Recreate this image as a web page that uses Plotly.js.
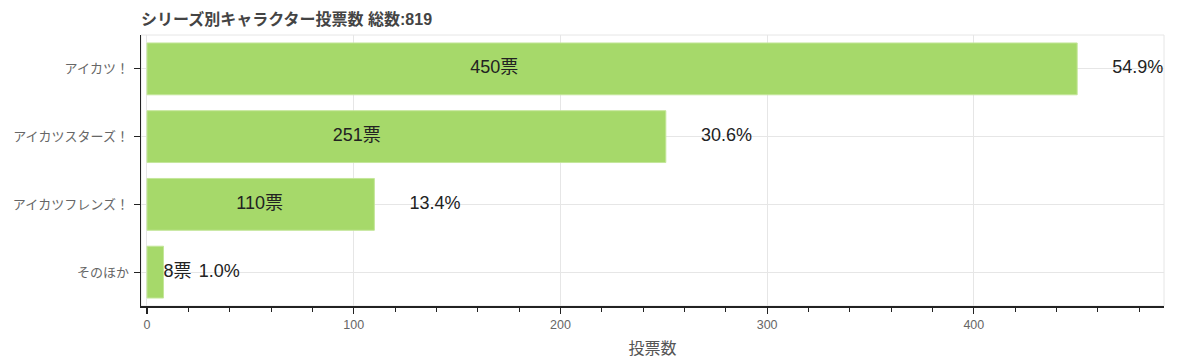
<!DOCTYPE html>
<html>
<head>
<meta charset="utf-8">
<script src="https://cdn.plot.ly/plotly-3.0.1.min.js"></script>
<style>html,body{margin:0;padding:0;background:#fff;}#chart{width:1200px;height:360px;}</style>
</head>
<body>
<div id="chart"></div>
<script>
const categories = ["アイカツ！", "アイカツスターズ！", "アイカツフレンズ！", "そのほか"];
const votes = [450, 251, 110, 8];
const voteLabels = ["450票", "251票", "110票", "8票"];
const percentLabels = ["54.9%", "30.6%", "13.4%", "1.0%"];
const voteLabelX = [168, 101.5, 54.5, 8];
const totalVotes = 819;

const FONT = "Liberation Sans, Arial, 'Noto Sans CJK JP', sans-serif";

const big = votes.map(v => v >= 50);
const traces = [
  {
    type: "bar", orientation: "h",
    y: categories, x: votes,
    width: 0.765,
    marker: {color: "#a6d96a", line: {color: "#c4e69a", width: 1}},
    hoverinfo: "x+y"
  },
  {
    type: "scatter", mode: "text",
    y: categories.filter((c, i) => big[i]),
    x: voteLabelX.filter((c, i) => big[i]),
    text: voteLabels.filter((c, i) => big[i]),
    textposition: "middle center",
    textfont: {family: FONT, size: 18, color: "#222"},
    cliponaxis: true, hoverinfo: "skip"
  },
  {
    type: "scatter", mode: "text",
    y: categories.filter((c, i) => !big[i]),
    x: voteLabelX.filter((c, i) => !big[i]),
    text: voteLabels.filter((c, i) => !big[i]),
    textposition: "middle right",
    textfont: {family: FONT, size: 18, color: "#222"},
    cliponaxis: true, hoverinfo: "skip"
  },
  {
    type: "scatter", mode: "text",
    y: categories, x: votes.map(v => v + 17),
    text: percentLabels,
    textposition: "middle right",
    textfont: {family: FONT, size: 18, color: "#222"},
    cliponaxis: true, hoverinfo: "skip"
  }
];

const layout = {
  width: 1200, height: 360,
  margin: {l: 141, r: 36, t: 35, b: 54, pad: 0},
  paper_bgcolor: "#fff", plot_bgcolor: "#fff",
  showlegend: false,
  font: {family: FONT, color: "#666", size: 12},
  title: {
    text: "シリーズ別キャラクター投票数 総数:" + totalVotes,
    x: 0, xref: "paper", xanchor: "left",
    y: 0.945, yanchor: "middle",
    font: {family: FONT, size: 16, color: "#444", weight: "bold"}
  },
  xaxis: {
    range: [-2.9, 492],
    tickvals: [0, 100, 200, 300, 400],
    ticks: "outside", ticklen: 6, tickwidth: 1.2, tickcolor: "#222",
    minor: {dtick: 20, tick0: 0, ticks: "outside", ticklen: 4, tickwidth: 1, tickcolor: "#222", showgrid: false},
    showgrid: true, gridcolor: "#e6e6e6", gridwidth: 1,
    zeroline: false,
    showline: true, linecolor: "#222", linewidth: 1.5,
    tickfont: {family: FONT, size: 12.5, color: "#666"},
    title: {text: "投票数", font: {family: FONT, size: 16, color: "#555"}, standoff: 12},
    fixedrange: true
  },
  yaxis: {
    type: "category",
    categoryorder: "array", categoryarray: categories,
    autorange: false, range: [3.5, -0.5],
    ticks: "outside", ticklen: 6, tickwidth: 1.2, tickcolor: "#222",
    showgrid: true, gridcolor: "#e6e6e6", gridwidth: 1,
    zeroline: false,
    showline: true, linecolor: "#222", linewidth: 1.5,
    tickfont: {family: FONT, size: 13, color: "#666"},
    ticklabelstandoff: 2,
    fixedrange: true
  },
  shapes: [{
    type: "rect", xref: "paper", yref: "paper", x0: 0, x1: 1, y0: 0, y1: 1,
    line: {color: "#e6e6e6", width: 1}, layer: "below"
  }]
};

Plotly.newPlot("chart", traces, layout, {displayModeBar: false, staticPlot: true});
</script>
</body>
</html>
